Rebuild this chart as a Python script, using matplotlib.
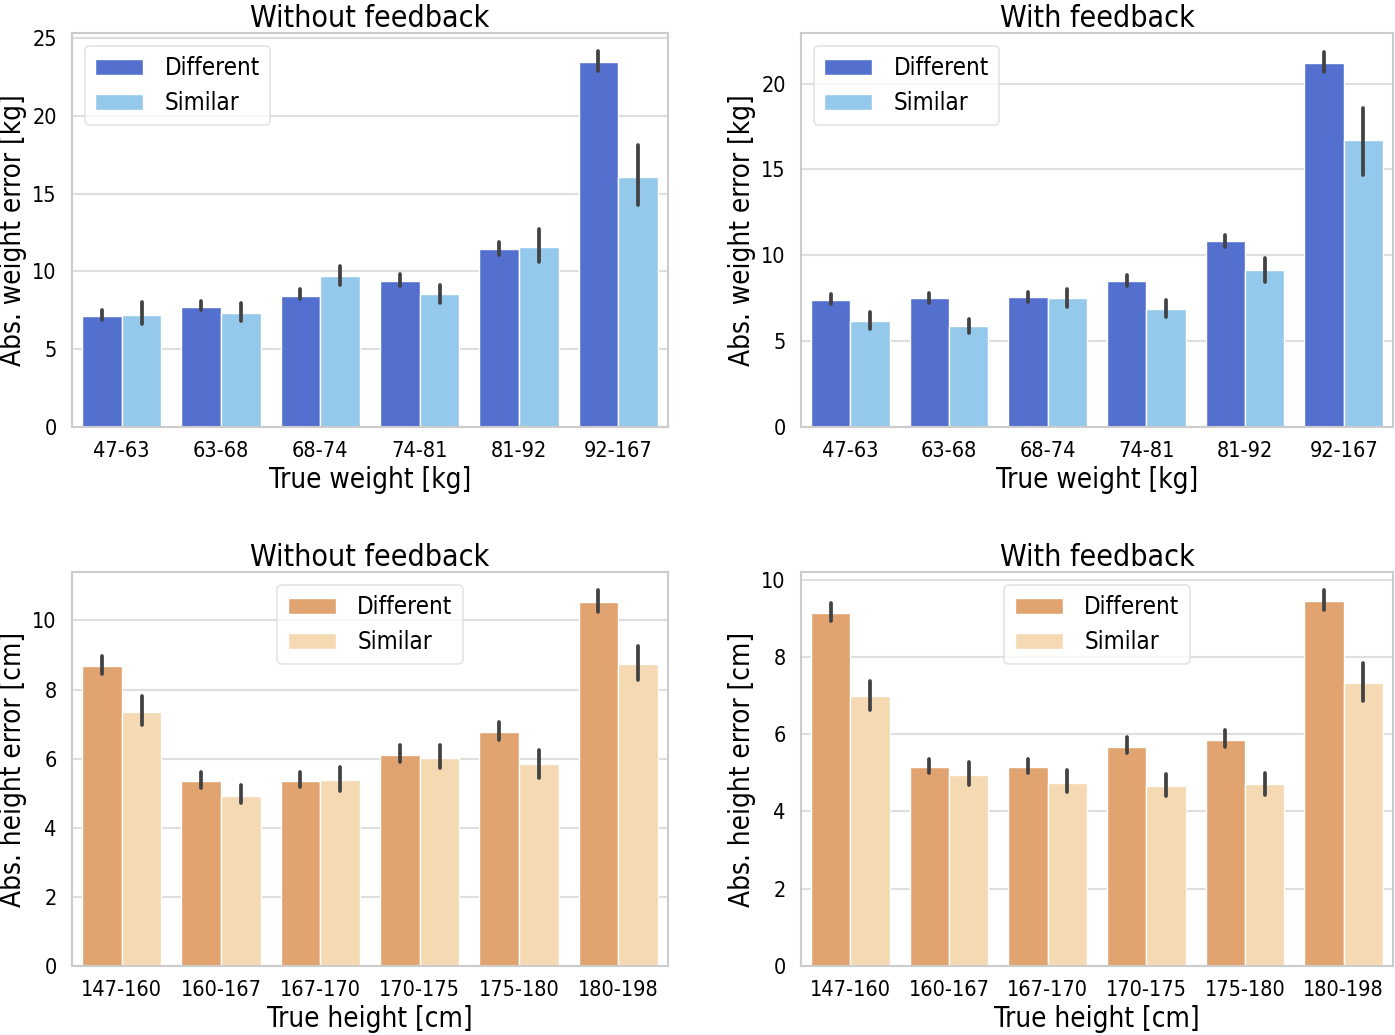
import numpy as np
import matplotlib
matplotlib.use("Agg")
import matplotlib.pyplot as plt
from matplotlib import font_manager

# ---------------- data ----------------
weight_bins = ["47-63", "63-68", "68-74", "74-81", "81-92", "92-167"]
height_bins = ["147-160", "160-167", "167-170", "170-175", "175-180", "180-198"]
groups = ["Different", "Similar"]

# weight, without feedback
w_nofb_diff = [7.15, 7.73, 8.45, 9.38, 11.42, 23.45]
w_nofb_diff_lo = [6.9, 7.5, 8.2, 9.05, 11.07, 22.9]
w_nofb_diff_hi = [7.5, 8.1, 8.84, 9.83, 11.87, 24.2]
w_nofb_sim = [7.23, 7.36, 9.68, 8.54, 11.57, 16.07]
w_nofb_sim_lo = [6.6, 6.8, 9.1, 8.0, 10.58, 14.3]
w_nofb_sim_hi = [8.05, 8.0, 10.36, 9.16, 12.75, 18.13]

# weight, with feedback
w_fb_diff = [7.4, 7.52, 7.58, 8.5, 10.85, 21.2]
w_fb_diff_lo = [7.14, 7.2, 7.3, 8.2, 10.5, 20.7]
w_fb_diff_hi = [7.73, 7.8, 7.85, 8.85, 11.2, 21.85]
w_fb_sim = [6.18, 5.9, 7.52, 6.88, 9.15, 16.7]
w_fb_sim_lo = [5.73, 5.5, 7.0, 6.4, 8.45, 14.7]
w_fb_sim_hi = [6.7, 6.3, 8.06, 7.4, 9.85, 18.6]

# height, without feedback
h_nofb_diff = [8.68, 5.36, 5.36, 6.1, 6.77, 10.54]
h_nofb_diff_lo = [8.45, 5.16, 5.17, 5.89, 6.54, 10.24]
h_nofb_diff_hi = [8.96, 5.6, 5.6, 6.38, 7.05, 10.88]
h_nofb_sim = [7.36, 4.93, 5.39, 6.02, 5.84, 8.73]
h_nofb_sim_lo = [6.96, 4.71, 5.07, 5.73, 5.45, 8.28]
h_nofb_sim_hi = [7.8, 5.24, 5.77, 6.38, 6.25, 9.25]

# height, with feedback
h_fb_diff = [9.15, 5.15, 5.16, 5.67, 5.86, 9.45]
h_fb_diff_lo = [8.94, 4.99, 4.99, 5.51, 5.66, 9.22]
h_fb_diff_hi = [9.4, 5.37, 5.37, 5.92, 6.11, 9.74]
h_fb_sim = [6.99, 4.95, 4.74, 4.66, 4.7, 7.32]
h_fb_sim_lo = [6.63, 4.68, 4.5, 4.41, 4.43, 6.87]
h_fb_sim_hi = [7.38, 5.28, 5.08, 4.97, 5.0, 7.84]

weight_colors = ["#5470cf", "#95c9ec"]
height_colors = ["#e1a370", "#f5d9b3"]

# ---------------- style ----------------
plt.rcParams["font.family"] = ["DejaVu Sans"]
try:
    fp = font_manager.FontProperties(family="DejaVu Sans", stretch="condensed")
    if "Condensed" in font_manager.findfont(fp, fallback_to_default=False):
        plt.rcParams["font.stretch"] = "condensed"
except Exception:
    pass

GRID = "#dedede"
SPINE = "#cccccc"
W, H = 1395, 1035

fig = plt.figure(figsize=(W / 100, H / 100), dpi=100)


def rect(x0, x1, y0, y1):
    return [x0 / W, 1 - y1 / H, (x1 - x0) / W, (y1 - y0) / H]


panels = [
    dict(rect=rect(72, 668, 33, 427),
         title="Without feedback", ylabel="Abs. weight error [kg]", xlabel="True weight [kg]",
         cats=weight_bins, colors=weight_colors,
         d=(w_nofb_diff, w_nofb_diff_lo, w_nofb_diff_hi),
         s=(w_nofb_sim, w_nofb_sim_lo, w_nofb_sim_hi),
         ylim=25.33, yticks=[0, 5, 10, 15, 20, 25], legloc="upper left"),
    dict(rect=rect(801, 1393, 33, 427),
         title="With feedback", ylabel="Abs. weight error [kg]", xlabel="True weight [kg]",
         cats=weight_bins, colors=weight_colors,
         d=(w_fb_diff, w_fb_diff_lo, w_fb_diff_hi),
         s=(w_fb_sim, w_fb_sim_lo, w_fb_sim_hi),
         ylim=22.95, yticks=[0, 5, 10, 15, 20], legloc="upper left"),
    dict(rect=rect(72, 668, 572, 966),
         title="Without feedback", ylabel="Abs. height error [cm]", xlabel="True height [cm]",
         cats=height_bins, colors=height_colors,
         d=(h_nofb_diff, h_nofb_diff_lo, h_nofb_diff_hi),
         s=(h_nofb_sim, h_nofb_sim_lo, h_nofb_sim_hi),
         ylim=11.4, yticks=[0, 2, 4, 6, 8, 10], legloc="upper center"),
    dict(rect=rect(801, 1393, 572, 966),
         title="With feedback", ylabel="Abs. height error [cm]", xlabel="True height [cm]",
         cats=height_bins, colors=height_colors,
         d=(h_fb_diff, h_fb_diff_lo, h_fb_diff_hi),
         s=(h_fb_sim, h_fb_sim_lo, h_fb_sim_hi),
         ylim=10.2, yticks=[0, 2, 4, 6, 8, 10], legloc="upper center"),
]

width = 0.4
for p in panels:
    ax = fig.add_axes(p["rect"])
    x = np.arange(len(p["cats"]))
    handles = []
    for k, (series, off) in enumerate([(p["d"], -width / 2), (p["s"], width / 2)]):
        vals, lo, hi = (np.array(a) for a in series)
        h = ax.bar(x + off, vals, width=width, color=p["colors"][k],
                   edgecolor="white", linewidth=1.0, label=groups[k], zorder=2)
        handles.append(h)
        ax.vlines(x + off, lo, hi, color="#424242", linewidth=2.7, zorder=3,
                  capstyle="round")
    ax.set_xlim(-0.5, len(p["cats"]) - 0.5)
    ax.set_ylim(0, p["ylim"])
    ax.set_yticks(p["yticks"])
    ax.set_xticks(x)
    ax.set_xticklabels(p["cats"])
    ax.tick_params(axis="both", labelsize=15.5, length=0)
    ax.tick_params(axis="x", pad=10)
    ax.tick_params(axis="y", pad=11)
    ax.set_title(p["title"], fontsize=21.7, pad=2)
    ax.set_ylabel(p["ylabel"], fontsize=20, labelpad=4)
    ax.set_xlabel(p["xlabel"], fontsize=20, labelpad=4)
    ax.grid(axis="y", color=GRID, linewidth=1.5, zorder=0)
    ax.set_axisbelow(True)
    for sp in ax.spines.values():
        sp.set_color(SPINE)
        sp.set_linewidth(1.5)
    leg = ax.legend(handles=handles, loc=p["legloc"], fontsize=17.3,
                    frameon=True, fancybox=True, borderpad=0.42,
                    handlelength=2.0, handleheight=0.65, handletextpad=0.9,
                    labelspacing=0.45, borderaxespad=0.55)
    leg.get_frame().set_edgecolor("#dddddd")
    leg.get_frame().set_linewidth(1.2)
    leg.get_frame().set_alpha(0.8)

fig.savefig("out.png", dpi=100, facecolor="white")
